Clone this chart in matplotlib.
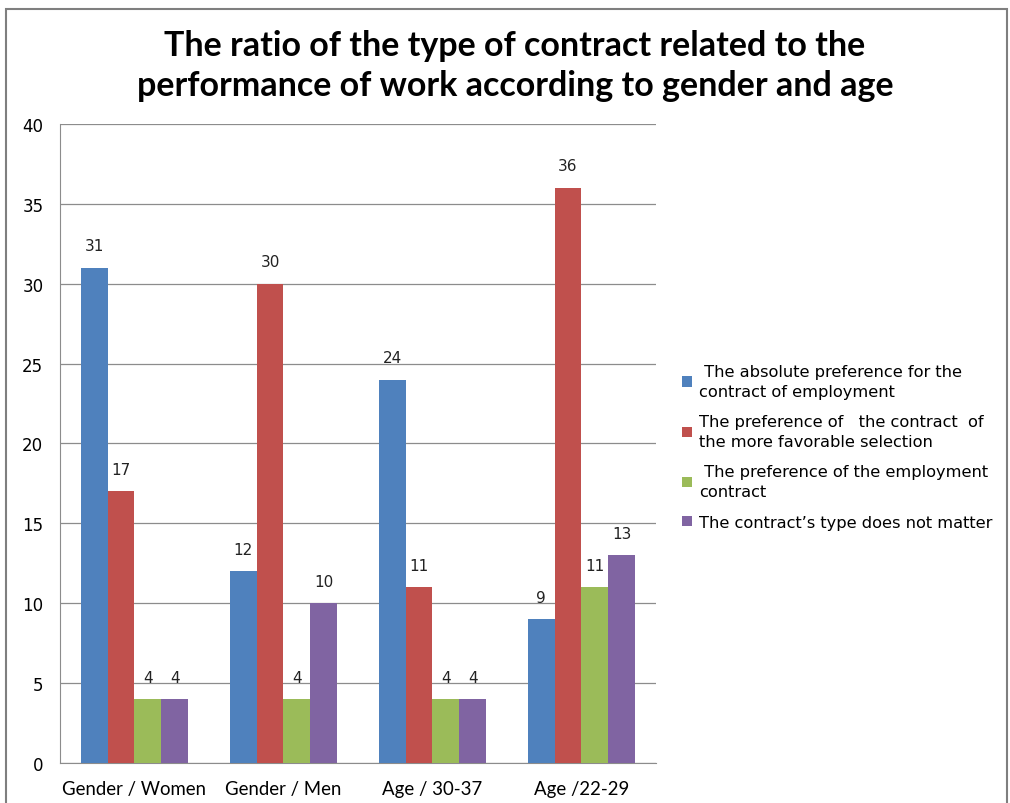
import numpy as np
import matplotlib
matplotlib.use("Agg")
import matplotlib.pyplot as plt
from matplotlib.patches import Rectangle

categories = ["Gender / Women", "Gender / Men", "Age / 30-37", "Age /22-29"]
series_names = [
    " The absolute preference for the\ncontract of employment",
    "The preference of   the contract  of\nthe more favorable selection",
    " The preference of the employment\ncontract",
    "The contract\u2019s type does not matter",
]
absolute_pref = [31, 12, 24, 9]
favorable_pref = [17, 30, 11, 36]
employment_pref = [4, 4, 4, 11]
type_no_matter = [4, 10, 4, 13]
colors = ["#4F81BD", "#C0504D", "#9BBB59", "#8064A2"]
yticks = [0, 5, 10, 15, 20, 25, 30, 35, 40]

series = [absolute_pref, favorable_pref, employment_pref, type_no_matter]

fig = plt.figure(figsize=(10.1, 8.04), dpi=100)
ax = fig.add_axes([0.0594, 0.0498, 0.590, 0.7948])

x = np.arange(len(categories))
w = 0.18
for i, (vals, name, c) in enumerate(zip(series, series_names, colors)):
    bars = ax.bar(x + (i - 1.5) * w, vals, w, color=c, label=name, zorder=3)
    for b, v in zip(bars, vals):
        ax.text(b.get_x() + b.get_width() / 2, v + 0.9, str(v),
                ha="center", va="bottom", fontsize=11, family="DejaVu Sans",
                color="#222222")

ax.set_xlim(-0.5, len(categories) - 0.5)
ax.set_ylim(0, 40)
ax.set_yticks(yticks)
ax.set_yticklabels([str(t) for t in yticks], fontsize=12, family="DejaVu Sans")
ax.set_xticks(x)
ax.set_xticklabels(categories, fontsize=13.4, family="Lato")
ax.tick_params(length=0, pad=12)
ax.tick_params(axis="y", pad=12)
ax.grid(axis="y", color="#8c8c8c", lw=0.9, zorder=0)
for s in ["top", "right"]:
    ax.spines[s].set_visible(False)
for s in ["left", "bottom"]:
    ax.spines[s].set_color("#8c8c8c")

fig.text(0.51, 0.918,
         "The ratio of the type of contract related to the\nperformance of work according to gender and age",
         ha="center", va="center", fontsize=24.5, fontweight="bold", family="Lato",
         linespacing=1.3)

leg = ax.legend(loc="center left", bbox_to_anchor=(1.02, 0.495), frameon=False,
                prop={"family": "DejaVu Sans", "size": 11.7},
                handlelength=0.6, handleheight=0.6, handletextpad=0.4,
                labelspacing=0.95)
for t in leg.get_texts():
    t.set_linespacing(1.4)

fig.patches.append(Rectangle((0.006, -0.01), 0.991, 0.998, transform=fig.transFigure,
                             fill=False, edgecolor="#7f7f7f", lw=1.5))

fig.savefig("out.png", dpi=100)
